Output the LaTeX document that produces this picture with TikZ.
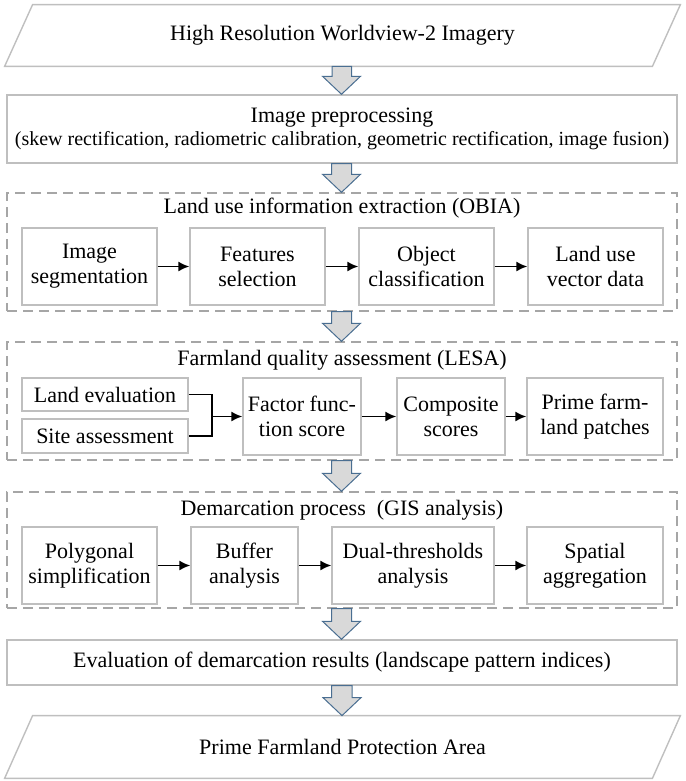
\documentclass[tikz,border=0pt]{standalone}
\usepackage{fontspec}
\setmainfont{Liberation Serif}
\usetikzlibrary{arrows.meta,calc}
\definecolor{boxgray}{HTML}{BFBFBF}
\definecolor{dashgray}{HTML}{A6A6A6}
\definecolor{arrowblue}{HTML}{4A6E91}
\definecolor{arrowfill}{HTML}{D9D9D9}
\begin{document}
\begin{tikzpicture}[x=0.5pt, y=-0.5pt, font=\fontsize{11}{12.5}\selectfont,
    outline/.style={draw=boxgray, line width=0.7pt},
    box/.style={outline, align=center, inner sep=0pt, minimum height=38.5pt},
    wide/.style={outline, align=center, inner sep=0pt, minimum width=335pt},
    group/.style={draw=dashgray, dash pattern=on 5pt off 3pt, line width=0.7pt, minimum width=335pt, minimum height=59pt, inner sep=0pt},
    io/.style={inner sep=0pt, minimum width=337.5pt, minimum height=30.5pt},
    flow/.style={-{Latex[length=5.5pt,width=5pt]}, line width=0.8pt},
    bigarrow/.style={draw=arrowblue, fill=arrowfill, line width=0.5pt}]
  \useasboundingbox (0,0) rectangle (685,781);
  % input and preprocessing
  \node[io] (src) at (342.5,35.5) {High Resolution Worldview-2 Imagery};
  \draw[outline] (src.south west) -- ($(src.north west)+(28,0)$) -- (src.north east) -- ($(src.south east)+(-28,0)$) -- cycle;
  \node[wide, minimum height=34pt] (prep) at (342,129) {Image preprocessing\\[-1pt]{\fontsize{10}{12.5}\selectfont (skew rectification, radiometric calibration, geometric rectification, image fusion)}};
  % OBIA
  \node[group, minimum height=59pt] (obia) at (342,252) {};
  \node (obiatitle) at (342,208) {Land use information extraction (OBIA)};
  \node[box, minimum width=67.5pt] (seg) at (89.5,266.5) {Image\\segmentation};
  \node[box, minimum width=67.5pt] (feat) at (257.5,266.5) {Features\\selection};
  \node[box, minimum width=67.5pt] (cls) at (426.5,266.5) {Object\\classification};
  \node[box, minimum width=67.5pt] (vec) at (595.5,266.5) {Land use\\vector data};
  \draw[flow] (seg) -- (feat);
  \draw[flow] (feat) -- (cls);
  \draw[flow] (cls) -- (vec);
  % LESA
  \node[group, minimum height=59pt] (lesa) at (342,401) {};
  \node (lesatitle) at (342,360) {Farmland quality assessment (LESA)};
  \node[box, minimum width=83pt, minimum height=16.5pt] (landeval) at (105,394.5) {Land evaluation};
  \node[box, minimum width=83pt, minimum height=17pt] (site) at (105,436) {Site assessment};
  \node[box, minimum width=59pt] (factor) at (302,416.5) {Factor func-\\tion score};
  \node[box, minimum width=54pt] (comp) at (451,416.5) {Composite\\scores};
  \node[box, minimum width=68pt] (prime) at (595,416.5) {Prime farm-\\land patches};
  \coordinate (join) at (212,416.5);
  \draw[line width=0.8pt] (landeval.east) -| (join) |- (site.east);
  \draw[flow] (join) -- (factor);
  \draw[flow] (factor) -- (comp);
  \draw[flow] (comp) -- (prime);
  % GIS
  \node[group, minimum height=58pt] (gis) at (342,550) {};
  \node (gistitle) at (342,510) {Demarcation process\ \ (GIS analysis)};
  \node[box, minimum width=67.5pt] (poly) at (89.5,565.5) {Polygonal\\simplification};
  \node[box, minimum width=53.5pt] (buf) at (244.5,565.5) {Buffer\\analysis};
  \node[box, minimum width=81pt] (dual) at (413,565.5) {Dual-thresholds\\analysis};
  \node[box, minimum width=68pt] (spat) at (595,565.5) {Spatial\\aggregation};
  \draw[flow] (poly) -- (buf);
  \draw[flow] (buf) -- (dual);
  \draw[flow] (dual) -- (spat);
  % evaluation and output
  \node[wide, minimum height=22.5pt] (eval) at (342,662.5) {Evaluation of demarcation results (landscape pattern indices)};
  \node[io, minimum height=31pt] (dst) at (342.5,747) {Prime Farmland Protection Area};
  \draw[outline] (dst.south west) -- ($(dst.north west)+(28,0)$) -- (dst.north east) -- ($(dst.south east)+(-28,0)$) -- cycle;
  % block arrows
  \foreach \a/\b in {src/prep, prep/obia, obia/lesa, lesa/gis, gis/eval, eval/dst}
    \draw[bigarrow] ($(\b.north)+(-0.5,0)$) -- ++(19,-18) -- ++(-9,0) |- ($(\a.south)+(-10.5,0)$) |- ($(\b.north)+(-19.5,-18)$) -- cycle;
\end{tikzpicture}
\end{document}
